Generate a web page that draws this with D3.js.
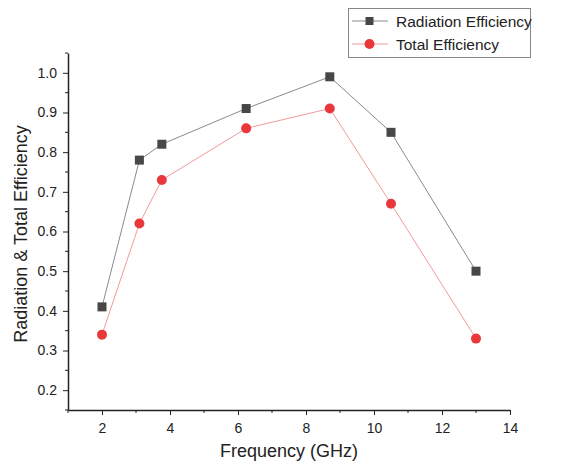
<!DOCTYPE html>
<html>
<head>
<meta charset="utf-8">
<script src="https://cdn.jsdelivr.net/npm/d3@7"></script>
<style>
body { margin: 0; background: #fff; }
svg { font-family: "Liberation Sans", Arial, sans-serif; }
</style>
</head>
<body>
<svg width="568" height="468"></svg>
<script>
var freq = [2, 3.1, 3.76, 6.24, 8.7, 10.5, 13];
var radiationEff = [0.41, 0.78, 0.82, 0.91, 0.99, 0.85, 0.50];
var totalEff = [0.34, 0.62, 0.73, 0.86, 0.91, 0.67, 0.33];
var xTicks = [2, 4, 6, 8, 10, 12, 14];
var yTicks = [0.2, 0.3, 0.4, 0.5, 0.6, 0.7, 0.8, 0.9, 1.0];

var svg = d3.select("svg");

var x = d3.scaleLinear().domain([1, 14]).range([68, 510]);
var y = d3.scaleLinear().domain([0.15, 1.05]).range([410, 53]);

// minor ticks
var xMinor = d3.range(1, 14.01, 1).filter(function(d) { return d % 2 !== 0; });
var yMinor = d3.range(0.15, 1.06, 0.1).map(function(d) { return +d.toFixed(2); });

var gx = svg.append("g").attr("transform", "translate(0,410)");
gx.call(d3.axisBottom(x).tickValues(xTicks).tickSize(5).tickPadding(8).tickSizeOuter(0));
gx.append("g").selectAll("line").data(xMinor).enter().append("line")
	.attr("x1", function(d) { return x(d); })
	.attr("x2", function(d) { return x(d); })
	.attr("y1", 0).attr("y2", 3)
	.attr("stroke", "#222");

var gy = svg.append("g").attr("transform", "translate(68,0)");
gy.call(d3.axisLeft(y).tickValues(yTicks).tickFormat(d3.format(".1f")).tickSize(5).tickPadding(6).tickSizeOuter(0));
gy.append("g").selectAll("line").data(yMinor).enter().append("line")
	.attr("y1", function(d) { return y(d); })
	.attr("y2", function(d) { return y(d); })
	.attr("x1", 0).attr("x2", -3)
	.attr("stroke", "#222");

svg.selectAll(".domain").attr("stroke", "#222").attr("stroke-width", 1.5);
svg.selectAll(".tick line").attr("stroke", "#222");
svg.selectAll(".tick text").attr("font-size", 14).attr("fill", "#222")
	.attr("font-family", "Liberation Sans, Arial, sans-serif");

var line = d3.line()
	.x(function(d) { return x(d[0]); })
	.y(function(d) { return y(d[1]); });

var rad = freq.map(function(f, i) { return [f, radiationEff[i]]; });
var tot = freq.map(function(f, i) { return [f, totalEff[i]]; });

svg.append("path").datum(rad).attr("d", line)
	.attr("fill", "none").attr("stroke", "#8a8a8a").attr("stroke-width", 1);
svg.append("path").datum(tot).attr("d", line)
	.attr("fill", "none").attr("stroke", "#f29a9a").attr("stroke-width", 1);

svg.append("g").selectAll("rect").data(rad).enter().append("rect")
	.attr("x", function(d) { return x(d[0]) - 4.5; })
	.attr("y", function(d) { return y(d[1]) - 4.5; })
	.attr("width", 9).attr("height", 9)
	.attr("fill", "#474747");

svg.append("g").selectAll("circle").data(tot).enter().append("circle")
	.attr("cx", function(d) { return x(d[0]); })
	.attr("cy", function(d) { return y(d[1]); })
	.attr("r", 5)
	.attr("fill", "#e8383b");

// axis titles
svg.append("text")
	.attr("x", 289).attr("y", 457)
	.attr("text-anchor", "middle")
	.attr("font-size", 18).attr("fill", "#222")
	.text("Frequency (GHz)");

svg.append("text")
	.attr("transform", "translate(27,234) rotate(-90)")
	.attr("text-anchor", "middle")
	.attr("font-size", 18).attr("fill", "#222")
	.text("Radiation & Total Efficiency");

// legend
var leg = svg.append("g");
leg.append("rect")
	.attr("x", 348.5).attr("y", 8.5).attr("width", 182).attr("height", 49)
	.attr("fill", "#fff").attr("stroke", "#888");
leg.append("line").attr("x1", 352).attr("x2", 388).attr("y1", 21).attr("y2", 21)
	.attr("stroke", "#8a8a8a");
leg.append("rect").attr("x", 365.5).attr("y", 17).attr("width", 8).attr("height", 8)
	.attr("fill", "#474747");
leg.append("text").attr("x", 396).attr("y", 27).attr("font-size", 15.5).attr("fill", "#222")
	.text("Radiation Efficiency");
leg.append("line").attr("x1", 352).attr("x2", 388).attr("y1", 44).attr("y2", 44)
	.attr("stroke", "#f29a9a");
leg.append("circle").attr("cx", 369.5).attr("cy", 44).attr("r", 5)
	.attr("fill", "#e8383b");
leg.append("text").attr("x", 396).attr("y", 50).attr("font-size", 15.5).attr("fill", "#222")
	.text("Total Efficiency");
</script>
</body>
</html>
